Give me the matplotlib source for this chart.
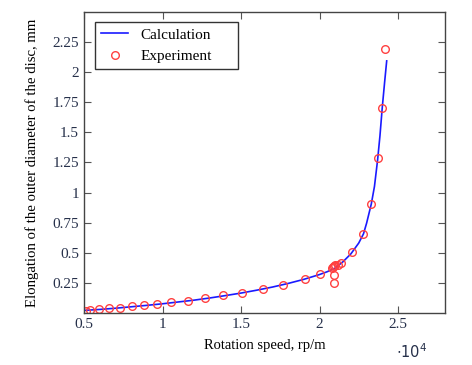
import matplotlib.pyplot as plt
from matplotlib.ticker import FuncFormatter

# calculated curve, rpm vs elongation (mm)
calc_speed = [5000, 6000, 7000, 8000, 9000, 10000, 11000, 12000, 13000, 14000,
              15000, 16000, 17000, 18000, 19000, 20000, 20500, 21000, 21500,
              22000, 22500, 22800, 23000, 23300, 23500, 23700, 23850, 24000,
              24150, 24280]
calc_elong = [0.020, 0.028, 0.038, 0.050, 0.062, 0.075, 0.090, 0.105, 0.123,
              0.143, 0.164, 0.188, 0.214, 0.244, 0.278, 0.318, 0.342, 0.372,
              0.425, 0.490, 0.580, 0.656, 0.745, 0.905, 1.050, 1.270, 1.470,
              1.710, 1.920, 2.094]

# experiment points
exp_speed = [5130, 5380, 5970, 6600, 7320, 8040, 8800, 9640, 10570, 11620,
             12720, 13860, 15060, 16370, 17700, 19050, 20060, 20780, 20860,
             20950, 21000, 20950, 20950, 21200, 21370, 22090, 22800, 23290,
             23710, 23990, 24180]
exp_elong = [0.019, 0.025, 0.028, 0.036, 0.044, 0.055, 0.064, 0.072, 0.086,
             0.102, 0.124, 0.147, 0.166, 0.196, 0.235, 0.282, 0.324, 0.370,
             0.379, 0.385, 0.395, 0.318, 0.246, 0.400, 0.417, 0.506, 0.656,
             0.902, 1.289, 1.699, 2.196]

yticks = [0.25, 0.5, 0.75, 1, 1.25, 1.5, 1.75, 2, 2.25]
xticks = [5000, 10000, 15000, 20000, 25000]

plt.rcParams['font.family'] = ['Liberation Serif', 'DejaVu Serif']
plt.rcParams['font.size'] = 10.5

fig = plt.figure(figsize=(4.72, 3.65), dpi=100)
ax = fig.add_axes([0.178, 0.143, 0.765, 0.824])

ax.plot(calc_speed, calc_elong, color='#1a1aff', lw=1.2, label='Calculation')
ax.plot(exp_speed, exp_elong, linestyle='none', marker='o', markersize=5.5,
        markerfacecolor='none', markeredgecolor='#ff4040', markeredgewidth=1.0,
        label='Experiment')

ax.set_xlim(5000, 28000)
ax.set_ylim(0, 2.5)
ax.set_xticks(xticks)
ax.set_yticks(yticks)
ax.xaxis.set_major_formatter(FuncFormatter(lambda v, p: '%g' % (v / 1e4)))
ax.yaxis.set_major_formatter(FuncFormatter(lambda v, p: '%g' % v))
ax.tick_params(direction='in', top=True, right=True, length=5, width=0.8,
               color='#555555', labelcolor='#26304a', labelsize=11)
for s in ax.spines.values():
    s.set_color('#444444')
    s.set_linewidth(1.0)

ax.set_xlabel('Rotation speed, rp/m', labelpad=6)
ax.set_ylabel('Elongation of the outer diameter of the disc, mm',
              labelpad=10, fontsize=10.6)
ax.text(0.865, -0.13, r'$\cdot10^4$', transform=ax.transAxes, fontsize=10.5,
        color='#26304a', ha='left', va='center')

leg = ax.legend(loc='upper left', fancybox=False, framealpha=1,
                edgecolor='#333333', bbox_to_anchor=(0.03, 0.5, 0.396, 0.467),
                mode='expand', borderaxespad=0, handlelength=1.8,
                fontsize=11)
leg.get_frame().set_linewidth(1.0)

fig.savefig('out.png', dpi=100)
